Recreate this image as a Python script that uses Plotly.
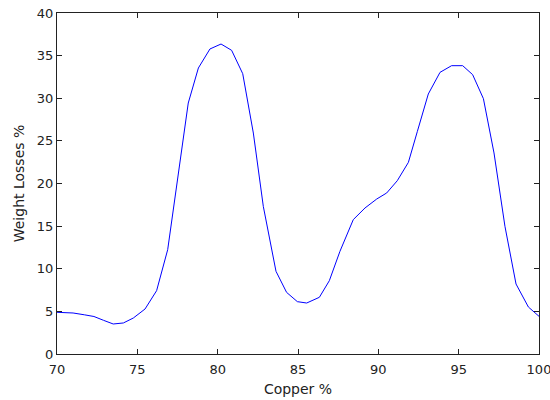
import plotly.graph_objects as go

copper = [70.0, 71.0, 71.7, 72.3, 72.9, 73.5, 74.13, 74.75, 75.48, 76.2, 76.89, 77.45,
          78.17, 78.8, 79.52, 80.21, 80.87, 81.56, 82.22, 82.84, 83.63, 84.29, 84.96,
          85.54, 86.33, 86.95, 87.61, 88.44, 89.17, 89.9, 90.52, 91.18, 91.87, 92.43,
          93.11, 93.84, 94.56, 95.25, 95.87, 96.54, 97.2, 97.88, 98.57, 99.34, 100.0]
weight_loss = [4.89, 4.81, 4.6, 4.4, 3.95, 3.52, 3.64, 4.22, 5.28, 7.43, 12.24, 19.67,
               29.44, 33.55, 35.78, 36.36, 35.62, 32.88, 25.92, 17.32, 9.7, 7.23, 6.14,
               5.98, 6.65, 8.6, 12.04, 15.76, 17.13, 18.18, 18.89, 20.33, 22.48, 26.12,
               30.5, 33.04, 33.82, 33.82, 32.77, 29.95, 23.58, 14.98, 8.21, 5.51, 4.42]

x_ticks = [70, 75, 80, 85, 90, 95, 100]
y_ticks = [0, 5, 10, 15, 20, 25, 30, 35, 40]

fig = go.Figure()
fig.add_trace(go.Scatter(x=copper, y=weight_loss, mode="lines",
                         line=dict(color="#0000ff", width=1), showlegend=False,
                         cliponaxis=False))

font = dict(family="DejaVu Sans", size=13, color="#222222")
axis_common = dict(showgrid=False, zeroline=False, showline=True, linecolor="#222222",
                   linewidth=1, mirror="ticks", ticks="inside", ticklen=5,
                   tickcolor="#222222", tickfont=font, automargin=False,
                   ticklabeloverflow="allow")

fig.update_layout(
    width=550, height=400,
    margin=dict(l=57, r=11, t=13, b=46),
    paper_bgcolor="white", plot_bgcolor="white",
    xaxis=dict(range=[70, 100], tickvals=x_ticks, ticktext=[str(v) for v in x_ticks],
               ticklabelstandoff=3,
               title=dict(text="Copper %", font=dict(family="DejaVu Sans", size=14, color="#222222"),
                          standoff=8),
               **axis_common),
    yaxis=dict(range=[0, 40], tickvals=y_ticks, ticktext=[str(v) for v in y_ticks],
               title=dict(text="Weight Losses %", font=dict(family="DejaVu Sans", size=14, color="#222222"),
                          standoff=8),
               **axis_common),
)

fig.write_html("out.html", config={"displayModeBar": False},
               post_script="document.body.style.margin='0';document.body.style.overflow='hidden';")
